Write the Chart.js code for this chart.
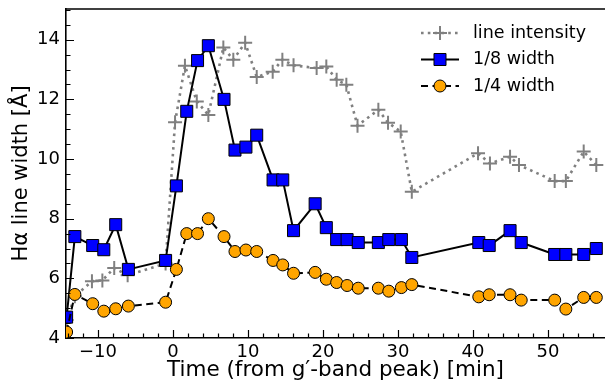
<!DOCTYPE html>
<html>
<head>
<meta charset="utf-8">
<script src="https://cdn.jsdelivr.net/npm/chart.js@4/dist/chart.umd.min.js"></script>
<style>
  html, body { margin: 0; padding: 0; background: #fff; overflow: hidden; }
  #wrap { width: 605px; height: 389px; }
  canvas { display: block; }
</style>
</head>
<body>
<div id="wrap"><canvas id="chart"></canvas></div>
<script>
// ===== DATA =====
// shared time stamps of the 1/8 and 1/4 width measurements [min]
const TIME_WIDTH = [-14.19, -13.09, -10.71, -9.23, -7.64, -5.95, -0.99, 0.45, 1.83, 3.27, 4.71, 6.8, 8.26, 9.72, 11.16,
  13.34, 14.63, 16.07, 18.95, 20.44, 21.82, 23.21, 24.7, 27.38, 28.77, 30.45, 31.84,
  40.77, 42.16, 44.94, 46.43, 50.89, 52.38, 54.76, 56.44];
const WIDTH_EIGHTH = [4.7, 7.4, 7.1, 6.96, 7.8, 6.3, 6.6, 9.1, 11.6, 13.3, 13.8, 12.0, 10.3, 10.4, 10.8,
  9.3, 9.3, 7.6, 8.5, 7.7, 7.3, 7.3, 7.2, 7.2, 7.3, 7.3, 6.7,
  7.2, 7.1, 7.6, 7.2, 6.8, 6.8, 6.8, 7.0];
const WIDTH_QUARTER = [4.2, 5.46, 5.15, 4.9, 4.98, 5.07, 5.2, 6.3, 7.5, 7.5, 8.0, 7.4, 6.9, 6.95, 6.9,
  6.6, 6.45, 6.17, 6.2, 5.97, 5.86, 5.76, 5.67, 5.67, 5.57, 5.69, 5.79,
  5.38, 5.45, 5.45, 5.27, 5.27, 4.97, 5.36, 5.36];

// line intensity (scaled onto the same axis)
const TIME_INTENSITY = [-14.19, -13.09, -10.81, -9.42, -7.84, -6.05, -0.99, 0.27, 1.59, 3.17, 4.71, 6.71, 8.04, 9.62, 11.16,
  13.29, 14.58, 16.07, 19.15, 20.44, 21.82, 23.11, 24.6, 27.38, 28.67, 30.36, 31.84,
  40.67, 42.26, 44.94, 46.13, 50.89, 52.38, 54.76, 56.44];
const INTENSITY = [4.6, 5.4, 5.9, 5.93, 6.35, 6.1, 6.5, 11.23, 13.13, 11.93, 11.48, 13.74, 13.33, 13.9, 12.75,
  12.93, 13.33, 13.14, 13.05, 13.1, 12.66, 12.49, 11.12, 11.65, 11.22, 10.92, 8.9,
  10.19, 9.85, 10.08, 9.8, 9.26, 9.26, 10.25, 9.8];

const X_TICKS = [-10, 0, 10, 20, 30, 40, 50];
const Y_TICKS = [4, 6, 8, 10, 12, 14];
const X_RANGE = [-14.27, 57.6];
const Y_RANGE = [4, 15.03];

const FONT = "'DejaVu Sans', sans-serif";

function toPoints(xs, ys) {
    return xs.map((x, i) => ({ x: x, y: ys[i] }));
}

function noPadding(scale) {
    scale.paddingTop = 0;
    scale.paddingBottom = 0;
    scale.paddingLeft = 0;
    scale.paddingRight = 0;
}

// matplotlib style inward ticks (major + minor) and the top spine
const axesPlugin = {
    id: 'axesDecor',
    afterDatasetsDraw(chart) {
        const ctx = chart.ctx;
        const area = chart.chartArea;
        const xs = chart.scales.x;
        const ys = chart.scales.y;
        ctx.save();
        ctx.strokeStyle = '#000';
        ctx.lineWidth = 1.2;
        ctx.beginPath();
        for (let v = -14; v <= X_RANGE[1]; v += 2) {
            const px = Math.round(xs.getPixelForValue(v)) + 0.5;
            const len = v % 10 === 0 ? 8 : 4.5;
            ctx.moveTo(px, area.bottom);
            ctx.lineTo(px, area.bottom - len);
        }
        for (let v = 4; v <= Y_RANGE[1]; v += 0.5) {
            const py = Math.round(ys.getPixelForValue(v)) + 0.5;
            const len = v % 2 === 0 ? 8 : 4.5;
            ctx.moveTo(area.left, py);
            ctx.lineTo(area.left + len, py);
        }
        ctx.stroke();
        ctx.lineWidth = 1.6;
        ctx.beginPath();
        ctx.moveTo(area.left, area.top);
        ctx.lineTo(area.right, area.top);
        ctx.stroke();
        ctx.restore();
    },
    afterDraw(chart) {
        // legend, upper right, no frame
        const ctx = chart.ctx;
        const items = chart.data.datasets.slice().sort((a, b) => b.order - a.order);
        const x0 = 421, x1 = 459, textX = 473;
        let y = 33;
        ctx.save();
        items.forEach(ds => {
            ctx.strokeStyle = ds.borderColor;
            ctx.lineWidth = ds.borderWidth;
            ctx.setLineDash(ds.borderDash || []);
            ctx.beginPath();
            ctx.moveTo(x0, y);
            ctx.lineTo(x1, y);
            ctx.stroke();
            ctx.setLineDash([]);
            ctx.fillStyle = ds.pointBackgroundColor;
            ctx.strokeStyle = ds.pointBorderColor;
            ctx.lineWidth = ds.pointBorderWidth;
            Chart.helpers.drawPoint(ctx, {
                pointStyle: ds.pointStyle,
                rotation: 0,
                radius: ds.pointRadius,
                borderWidth: ds.pointBorderWidth
            }, (x0 + x1) / 2, y);
            ctx.fillStyle = '#000';
            ctx.font = '17.5px ' + FONT;
            ctx.textBaseline = 'middle';
            ctx.fillText(ds.label, textX, y);
            y += 26.5;
        });
        ctx.restore();
    }
};

const ctx = document.getElementById('chart');
new Chart(ctx, {
    type: 'scatter',
    data: {
        datasets: [
            {
                label: 'line intensity',
                data: toPoints(TIME_INTENSITY, INTENSITY),
                showLine: true,
                borderColor: '#808080',
                borderWidth: 2.6,
                borderDash: [2.6, 4.2],
                pointStyle: 'cross',
                pointRadius: 7,
                pointBorderWidth: 2,
                pointBackgroundColor: '#808080',
                pointBorderColor: '#808080',
                order: 3
            },
            {
                label: '1/8 width',
                data: toPoints(TIME_WIDTH, WIDTH_EIGHTH),
                showLine: true,
                borderColor: '#000',
                borderWidth: 2,
                pointStyle: 'rect',
                pointRadius: 8.5,
                pointBorderWidth: 1,
                pointBackgroundColor: '#0000ff',
                pointBorderColor: '#000',
                order: 2
            },
            {
                label: '1/4 width',
                data: toPoints(TIME_WIDTH, WIDTH_QUARTER),
                showLine: true,
                borderColor: '#000',
                borderWidth: 2,
                borderDash: [7, 4.5],
                pointStyle: 'circle',
                pointRadius: 6,
                pointBorderWidth: 1,
                pointBackgroundColor: '#ffa500',
                pointBorderColor: '#000',
                order: 1
            }
        ]
    },
    options: {
        responsive: true,
        maintainAspectRatio: false,
        animation: false,
        events: [],
        clip: 0,
        layout: { autoPadding: false, padding: { top: 9, right: 0, bottom: 0, left: 0 } },
        plugins: {
            legend: { display: false },
            tooltip: { enabled: false }
        },
        elements: { line: { tension: 0 } },
        scales: {
            x: {
                type: 'linear',
                min: X_RANGE[0],
                max: X_RANGE[1],
                afterBuildTicks: (scale) => { scale.ticks = X_TICKS.map(v => ({ value: v })); },
                afterFit: (scale) => { scale.height = 51; noPadding(scale); },
                grid: { display: false, drawTicks: false },
                border: { display: true, color: '#000', width: 1.6 },
                ticks: {
                    color: '#000',
                    font: { family: FONT, size: 18 },
                    padding: 4,
                    maxRotation: 0,
                    callback: (v) => v < 0 ? '\u2212' + Math.abs(v) : String(v)
                },
                title: {
                    display: true,
                    text: 'Time (from g\u2032-band peak) [min]',
                    color: '#000',
                    font: { family: FONT, size: 21.5 },
                    padding: { top: 0, bottom: 6 }
                }
            },
            y: {
                type: 'linear',
                min: Y_RANGE[0],
                max: Y_RANGE[1],
                afterBuildTicks: (scale) => { scale.ticks = Y_TICKS.map(v => ({ value: v })); },
                afterFit: (scale) => { scale.width = 66; noPadding(scale); },
                grid: { display: false, drawTicks: false },
                border: { display: true, color: '#000', width: 1.6 },
                ticks: {
                    color: '#000',
                    font: { family: FONT, size: 18 },
                    padding: 6
                },
                title: {
                    display: true,
                    text: 'H\u03b1 line width [\u00c5]',
                    color: '#000',
                    font: { family: FONT, size: 21 },
                    padding: { top: 9, bottom: 0 }
                }
            }
        }
    },
    plugins: [axesPlugin]
});
</script>
</body>
</html>
